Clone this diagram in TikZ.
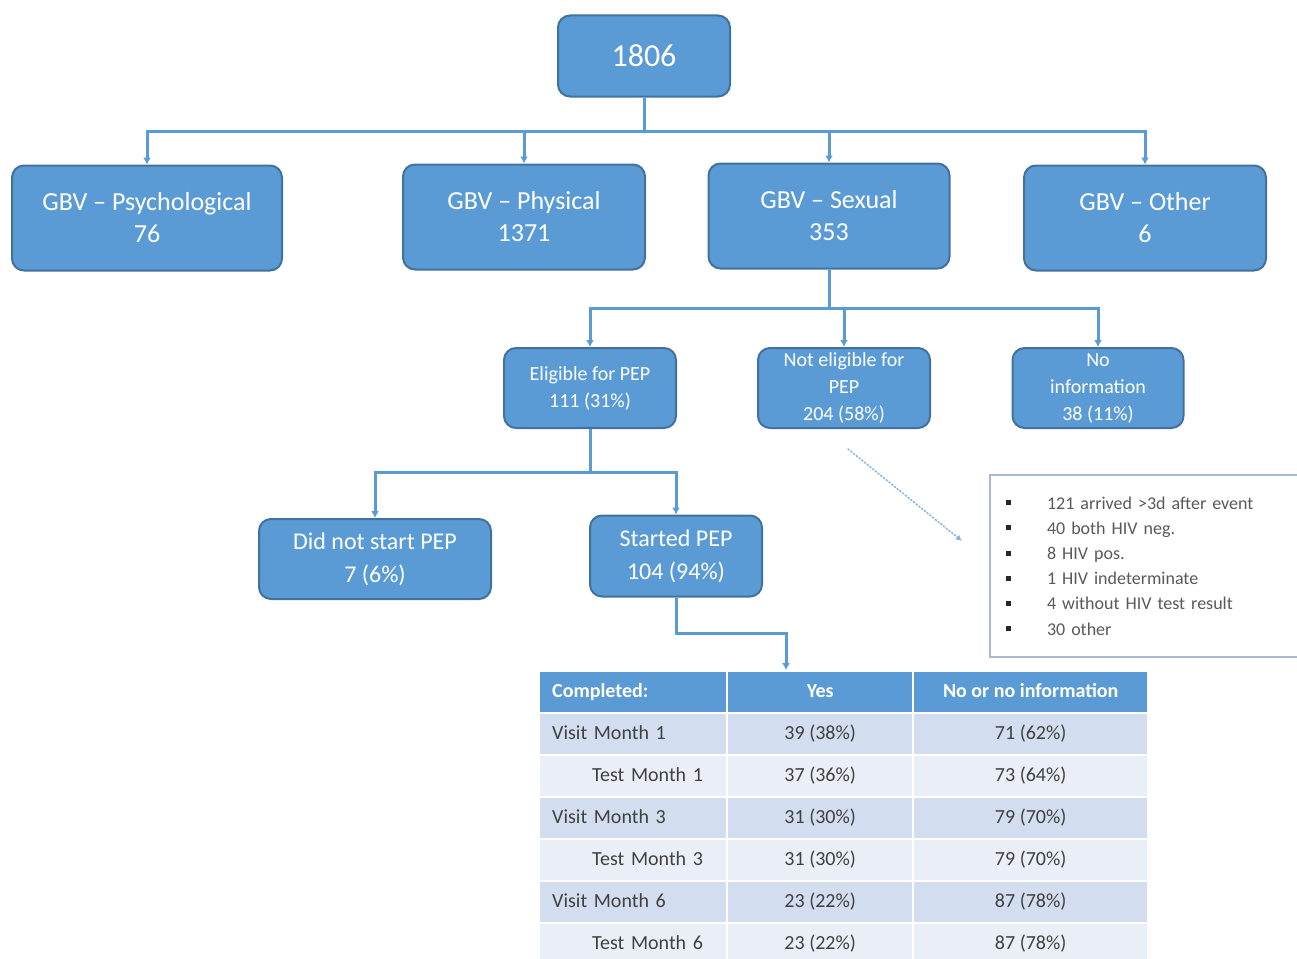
\documentclass[tikz,border=0pt]{standalone}
\usepackage{fontspec}
\setmainfont{Carlito}
\usetikzlibrary{positioning,matrix,arrows.meta,calc}
\definecolor{boxblue}{HTML}{5B9BD5}
\definecolor{boxedge}{HTML}{41719C}
\definecolor{rowdark}{HTML}{D2DEEF}
\definecolor{rowlight}{HTML}{EAEFF7}
\definecolor{tabtext}{HTML}{404040}
\definecolor{noteedge}{HTML}{A6BCD6}
\definecolor{notetext}{HTML}{595959}
\newcommand{\notebullet}{\makebox[41pt][l]{\textcolor{black!85}{\rule[4pt]{5pt}{5pt}}}}

\begin{document}
\begin{tikzpicture}[x=1pt, y=-1pt, line cap=round]
  \tikzset{box/.style={rounded corners=12pt, fill=boxblue, draw=boxedge, line width=2pt, text=white, align=center, inner sep=0pt},
    bigbox/.style={box, minimum width=242pt, minimum height=105pt, font=\fontsize{26}{32}\selectfont},
    smallbox/.style={box, minimum width=172pt, minimum height=80pt, font=\fontsize{20}{27}\selectfont},
    midbox/.style={box, minimum height=80pt, font=\fontsize{24}{33}\selectfont},
    link/.style={draw=boxblue, line width=3pt, line cap=butt, -{Latex[length=7pt,width=8pt]}},
    dotlink/.style={draw=boxblue!75, line width=1.5pt, dotted, -{Latex[length=6pt,width=6pt]}},
    note/.style={draw=noteedge, line width=2pt, fill=white, text=notetext, align=left, inner xsep=16pt, text width=308pt, minimum height=182pt, font=\fontsize{18}{25.2}\selectfont},
    datatable/.style={matrix of nodes, inner sep=0pt, row sep=2pt, column sep=2pt,
      nodes={minimum height=40pt, inner sep=0pt, text height=14pt, text depth=4pt, text=tabtext, anchor=center, font=\fontsize{20}{24}\selectfont},
      column 1/.style={nodes={text width=162pt, inner xsep=12pt, align=left}},
      column 2/.style={nodes={minimum width=184pt}},
      column 3/.style={nodes={minimum width=233pt}},
      row 1/.style={nodes={fill=boxblue, text=white, font=\bfseries\fontsize{20}{24}\selectfont}},
      row 2/.style={nodes={fill=rowdark}}, row 3/.style={nodes={fill=rowlight}},
      row 4/.style={nodes={fill=rowdark}}, row 5/.style={nodes={fill=rowlight}},
      row 6/.style={nodes={fill=rowdark}}, row 7/.style={nodes={fill=rowlight}}}}
  \useasboundingbox (0,0) rectangle (1297,958);
  % top
  \node[box, minimum width=172pt, minimum height=81pt, font=\fontsize{32}{38}\selectfont] (root) at (644,56) {1806};
  % gbv types
  \node[bigbox, minimum width=270pt] (psy) at (147,218) {GBV -- Psychological\\76};
  \node[bigbox] (phys) at (524,217) {GBV -- Physical\\1371};
  \node[bigbox, minimum width=241pt] (sex) at (829,216) {GBV -- Sexual\\353};
  \node[bigbox] (oth) at (1145,218) {GBV -- Other\\6};
  % pep eligibility
  \node[smallbox] (elig) at (590,388) {Eligible for PEP\\111 (31\%)};
  \node[smallbox] (notelig) at (844,388) {Not eligible for\\PEP\\204 (58\%)};
  \node[smallbox, minimum width=171pt] (noinfo) at (1098,388) {No\\information\\38 (11\%)};
  % pep start
  \node[midbox, minimum width=232pt] (nostart) at (375,559) {Did not start PEP\\7 (6\%)};
  \node[midbox, minimum width=172pt, minimum height=81pt] (start) at (676,556) {Started PEP\\104 (94\%)};
  % reasons
  \node[note, anchor=north west] (note) at (989,474) {\notebullet 121 arrived >3d after event\\
    \notebullet 40 both HIV neg.\\
    \notebullet 8 HIV pos.\\
    \notebullet 1 HIV indeterminate\\
    \notebullet 4 without HIV test result\\
    \notebullet 30 other};
  % follow-up
  \matrix[datatable, anchor=north west] (tab) at (540,672) {
    Completed: & Yes & No or no information \\
    Visit Month 1 & 39 (38\%) & 71 (62\%) \\
    \hspace*{40pt}Test Month 1 & 37 (36\%) & 73 (64\%) \\
    Visit Month 3 & 31 (30\%) & 79 (70\%) \\
    \hspace*{40pt}Test Month 3 & 31 (30\%) & 79 (70\%) \\
    Visit Month 6 & 23 (22\%) & 87 (78\%) \\
    \hspace*{40pt}Test Month 6 & 23 (22\%) & 87 (78\%) \\
  };
  % arrows
  \coordinate (busA) at (644,131);
  \coordinate (busB) at (827,308);
  \coordinate (busC) at (590,472);
  \coordinate (busD) at (676,633);
  \coordinate (tabin) at (786,670);
  \coordinate (dotA) at (848,449);
  \coordinate (dotB) at (962,541);
  \foreach \c in {psy,phys,sex,oth}
    \draw[link] (root.south) -- (root.south |- busA) -| (\c.north);
  \foreach \c in {elig,notelig,noinfo}
    \draw[link] (sex.south) -- (sex.south |- busB) -| (\c.north);
  \foreach \c in {nostart,start}
    \draw[link] (elig.south) -- (elig.south |- busC) -| (\c.north);
  \draw[link] (start.south) -- (start.south |- busD) -| (tabin);
  \draw[dotlink] (dotA) -- (dotB);
\end{tikzpicture}
\end{document}
